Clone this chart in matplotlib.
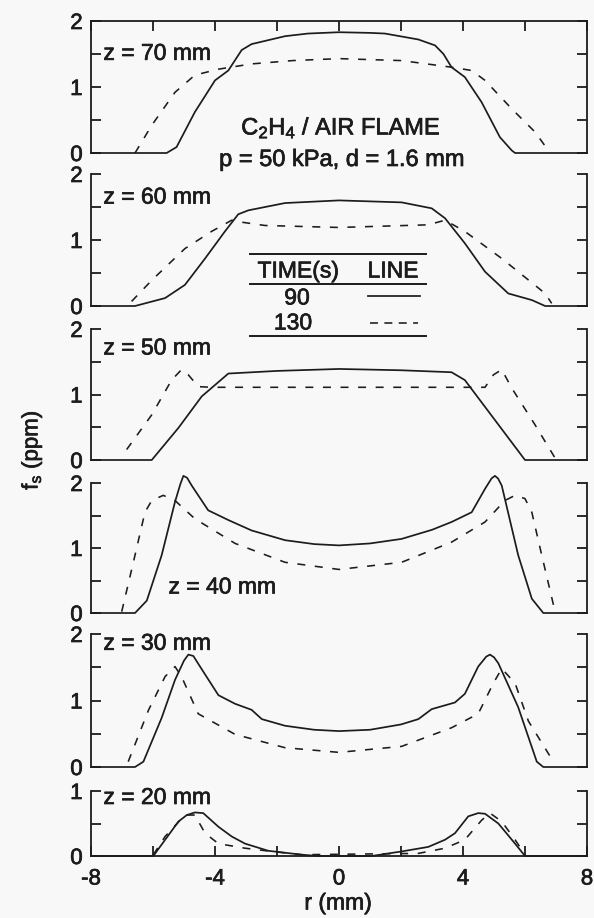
import matplotlib
matplotlib.use('Agg')
import matplotlib.pyplot as plt
from matplotlib.lines import Line2D
import matplotlib.patheffects as pe

plt.rcParams['font.family'] = ['Liberation Sans', 'DejaVu Sans']
plt.rcParams['mathtext.fontset'] = 'custom'
plt.rcParams['mathtext.rm'] = 'Liberation Sans'
plt.rcParams['mathtext.it'] = 'Liberation Sans'

# heights above burner, one panel each (top to bottom)
z_labels = ['z = 70 mm', 'z = 60 mm', 'z = 50 mm', 'z = 40 mm', 'z = 30 mm', 'z = 20 mm']
y_max = [2, 2, 2, 2, 2, 1]

# t = 90 s (solid)
r90_70 = [-8, -5.56, -5.24, -4.65, -4.0, -3.57, -3.14, -2.82, -1.74, -1.0, 0, 1.0, 1.48, 2.56, 3.1, 3.37, 3.63, 4.06, 4.6, 5.19, 5.57, 5.68, 8]
fs90_70 = [0, 0, 0.09, 0.62, 1.10, 1.25, 1.56, 1.65, 1.77, 1.81, 1.83, 1.82, 1.81, 1.72, 1.63, 1.50, 1.30, 1.15, 0.77, 0.24, 0.04, 0, 0]
r90_60 = [-8, -6.58, -5.61, -4.97, -4.32, -3.68, -3.25, -2.92, -1.74, 0, 2.02, 2.99, 3.42, 4.06, 4.71, 5.46, 6.22, 6.65, 8]
fs90_60 = [0, 0, 0.12, 0.32, 0.72, 1.13, 1.39, 1.45, 1.56, 1.60, 1.57, 1.48, 1.33, 0.95, 0.52, 0.19, 0.09, 0, 0]
r90_50 = [-8, -6.04, -5.18, -4.43, -3.57, -2.0, 0, 2.0, 3.63, 4.06, 5.03, 6.0, 8]
fs90_50 = [0, 0, 0.49, 0.97, 1.32, 1.36, 1.39, 1.37, 1.34, 1.22, 0.61, 0, 0]
r90_40 = [-8, -6.58, -6.2, -5.72, -5.29, -5.12, -5.02, -4.9, -4.75, -4.22, -3.57, -2.82, -1.74, -0.8, 0, 1.0, 2.02, 3.0, 3.63, 4.28, 4.71, 4.92, 5.03, 5.13, 5.25, 5.78, 6.22, 6.59, 8]
fs90_40 = [0, 0, 0.19, 0.89, 1.71, 1.98, 2.11, 2.08, 1.96, 1.58, 1.43, 1.27, 1.12, 1.06, 1.04, 1.07, 1.14, 1.28, 1.40, 1.55, 1.91, 2.07, 2.11, 2.07, 1.96, 0.89, 0.22, 0, 0]
r90_30 = [-8, -6.58, -6.31, -5.72, -5.29, -5.0, -4.86, -4.7, -4.4, -3.89, -3.35, -2.82, -2.49, -1.74, -0.8, 0, 1.0, 2.0, 2.56, 2.99, 3.74, 4.06, 4.49, 4.75, 4.87, 5.0, 5.14, 5.78, 6.38, 6.59, 8]
fs90_30 = [0, 0, 0.08, 0.74, 1.31, 1.60, 1.69, 1.67, 1.45, 1.08, 0.95, 0.86, 0.72, 0.62, 0.56, 0.54, 0.56, 0.64, 0.72, 0.87, 0.97, 1.10, 1.51, 1.66, 1.69, 1.65, 1.56, 0.90, 0.08, 0, 0]
r90_20 = [-8, -5.99, -5.18, -4.91, -4.65, -4.38, -3.89, -3.46, -3.03, -2.28, -1.20, -0.67, 1.05, 2.02, 2.88, 3.42, 3.74, 4.17, 4.49, 4.71, 5.14, 5.68, 6.0, 8]
fs90_20 = [0, 0, 0.53, 0.63, 0.67, 0.66, 0.45, 0.30, 0.19, 0.08, 0.02, 0, 0, 0.07, 0.14, 0.25, 0.35, 0.61, 0.66, 0.65, 0.50, 0.19, 0, 0]

# t = 130 s (dashed)
r130_70 = [-6.58, -6.04, -5.29, -4.65, -3.89, -2.82, -1.5, 0, 2.02, 3.63, 4.28, 4.71, 5.57, 6.32, 6.75]
fs130_70 = [0, 0.42, 0.92, 1.18, 1.27, 1.35, 1.40, 1.43, 1.40, 1.30, 1.25, 1.10, 0.67, 0.32, 0.04]
r130_60 = [-6.69, -6.04, -4.97, -4.11, -3.46, -3.14, -2.39, 0, 2.88, 3.42, 4.06, 5.25, 6.65, 6.86]
fs130_60 = [0.07, 0.39, 0.87, 1.13, 1.30, 1.27, 1.22, 1.19, 1.23, 1.30, 1.13, 0.72, 0.19, 0.04]
r130_50 = [-6.85, -6.04, -5.40, -5.08, -4.86, -4.54, -4.11, 0, 4.71, 4.98, 5.25, 5.57, 6.32, 6.97]
fs130_50 = [0.16, 0.69, 1.22, 1.38, 1.30, 1.12, 1.11, 1.11, 1.11, 1.30, 1.38, 1.10, 0.54, 0.03]
r130_40 = [-7.01, -6.58, -6.26, -6.04, -5.67, -5.29, -4.65, -3.35, -1.74, 0, 2.02, 3.63, 4.71, 5.35, 5.68, 6.0, 6.22, 6.54, 6.97]
fs130_40 = [0.02, 0.89, 1.55, 1.73, 1.81, 1.73, 1.45, 1.07, 0.78, 0.67, 0.78, 1.09, 1.40, 1.73, 1.81, 1.76, 1.55, 0.89, 0.02]
r130_30 = [-6.80, -6.15, -5.61, -5.29, -5.08, -4.54, -3.35, -1.74, 0, 2.02, 3.63, 4.49, 4.98, 5.25, 5.68, 6.11, 6.81]
fs130_30 = [0.08, 0.85, 1.36, 1.51, 1.36, 0.80, 0.49, 0.29, 0.22, 0.31, 0.59, 0.80, 1.26, 1.48, 1.26, 0.69, 0.16]
r130_20 = [-5.99, -5.61, -4.97, -4.65, -4.32, -3.89, -3.03, -2.17, -1.2, 2.56, 3.42, 4.06, 4.6, 4.87, 5.25, 5.68, 6.0]
fs130_20 = [0.02, 0.30, 0.63, 0.63, 0.35, 0.19, 0.12, 0.07, 0.02, 0.04, 0.12, 0.25, 0.55, 0.66, 0.53, 0.25, 0.02]

r90 = [r90_70, r90_60, r90_50, r90_40, r90_30, r90_20]
fs90 = [fs90_70, fs90_60, fs90_50, fs90_40, fs90_30, fs90_20]
r130 = [r130_70, r130_60, r130_50, r130_40, r130_30, r130_20]
fs130 = [fs130_70, fs130_60, fs130_50, fs130_40, fs130_30, fs130_20]

x_ticks = [-8, -6, -4, -2, 0, 2, 4, 6, 8]
x_ticklabels = ['-8', '', '-4', '', '0', '', '4', '', '8']

# panel extents in pixels (top, bottom) of a 594x918 figure
W, H = 594, 918
panel_px = [(21, 153), (174, 306), (329, 460), (483, 613), (634, 767), (791, 856)]
label_pos = [(-7.6, 1.51), (-7.6, 1.65), (-7.6, 1.71), (-5.5, 0.40), (-7.6, 1.86), (-7.6, 0.90)]

INK = '#1c1c1c'
LW = 1.25
FS = 16.5
BOLDISH = [pe.withStroke(linewidth=0.5, foreground=INK)]


def fx(px):
    return px / W


def fy(py):
    return 1 - py / H


def label(fig, x, y, s, **kw):
    kw.setdefault('fontsize', FS)
    return fig.text(fx(x), fy(y), s, color=INK, ha='center', va='center', path_effects=BOLDISH, **kw)


def main():
    fig = plt.figure(figsize=(5.94, 9.18), dpi=100, facecolor='#f8f8f8')
    for i, (top, bot) in enumerate(panel_px):
        ax = fig.add_axes([fx(91), fy(bot), fx(587) - fx(91), (bot - top) / H])
        ax.set_facecolor('none')
        ax.plot(r130[i], fs130[i], color=INK, lw=1.15, dashes=(5, 6), clip_on=False)
        ax.plot(r90[i], fs90[i], color=INK, lw=LW, clip_on=False)
        ax.set_xlim(-8, 8)
        ax.set_ylim(0, y_max[i])
        if y_max[i] == 2:
            ax.set_yticks([0, 0.5, 1, 1.5, 2], ['0', '', '1', '', '2'])
        else:
            ax.set_yticks([0, 0.5, 1], ['0', '', '1'])
        ax.set_xticks(x_ticks, x_ticklabels)
        for s in ax.spines.values():
            s.set_linewidth(1.3)
            s.set_color(INK)
        ax.spines['top'].set_visible(i == 0)
        ax.spines['bottom'].set_visible(i == 5)
        ax.tick_params(axis='y', direction='in', length=7, width=1.3, color=INK,
                       left=True, right=True, labelright=False, labelsize=16, pad=6, labelcolor=INK)
        ax.tick_params(axis='x', direction='in', length=7, width=1.3, color=INK,
                       top=(i == 0), bottom=(i == 5), labelbottom=(i == 5), labeltop=False,
                       labelsize=16, pad=9, labelcolor=INK)
        for t in ax.get_xticklabels() + ax.get_yticklabels():
            t.set_path_effects(BOLDISH)
        lx, ly = label_pos[i]
        ax.text(lx, ly, z_labels[i], fontsize=FS, color=INK, ha='left', va='center', path_effects=BOLDISH)

    # flame description
    label(fig, 341, 128, 'C$_2$H$_4$ / AIR FLAME', fontsize=17)
    label(fig, 342, 160, 'p = 50 kPa, d = 1.6 mm', fontsize=17)

    # TIME / LINE table
    for py in (254, 284, 336):
        fig.add_artist(Line2D([fx(250), fx(426)], [fy(py), fy(py)], color=INK, lw=1.4))
    label(fig, 298, 271, 'TIME(s)')
    label(fig, 393, 271, 'LINE')
    label(fig, 297, 298, '90')
    label(fig, 293, 323, '130')
    fig.add_artist(Line2D([fx(368), fx(420)], [fy(296), fy(296)], color=INK, lw=LW))
    fig.add_artist(Line2D([fx(370), fx(418)], [fy(323), fy(323)], color=INK, lw=1.15, dashes=(5, 4)))

    label(fig, 32, 450, 'f$_s$ (ppm)', fontsize=16, rotation=90)
    label(fig, 338, 903, 'r (mm)', fontsize=16.5)

    fig.savefig('out.png', dpi=100, facecolor=fig.get_facecolor())


if __name__ == "__main__":
    main()
